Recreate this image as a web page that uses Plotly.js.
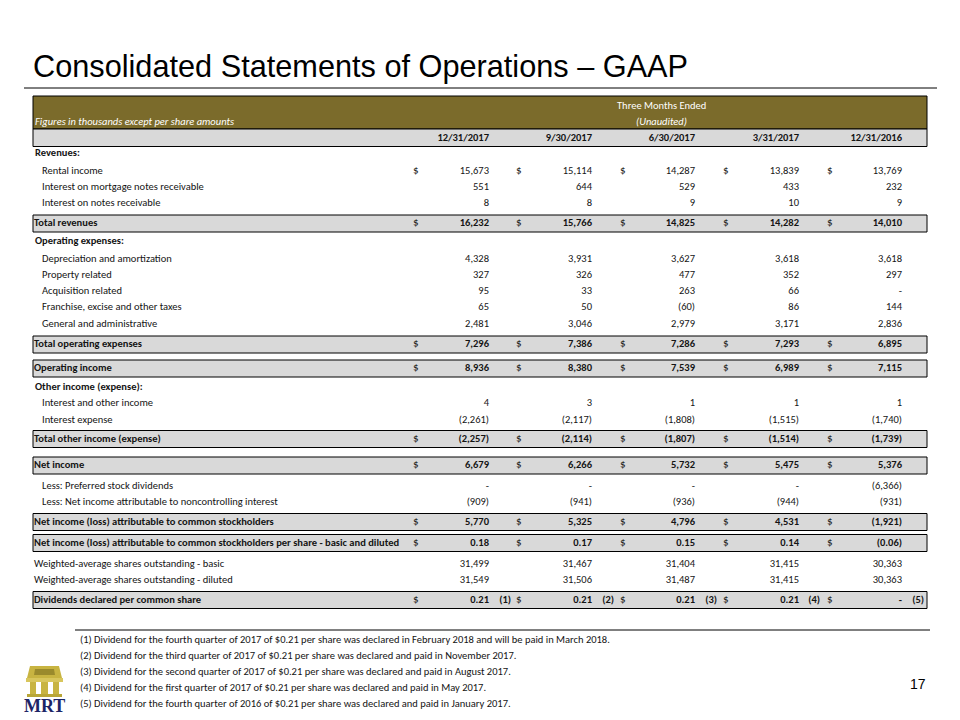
<!DOCTYPE html>
<html><head><meta charset="utf-8">
<script src="https://cdn.plot.ly/plotly-3.0.1.min.js"></script>
<style>html,body{margin:0;padding:0;background:#fff}#chart{width:960px;height:720px}</style>
</head><body><div id="chart"></div>
<script>
// ---------------- DATA ----------------
const chartTitle = 'Consolidated Statements of Operations \u2013 GAAP';
const headerTop = 'Three Months Ended';
const headerSub = '(Unaudited)';
const headerNote = 'Figures in thousands except per share amounts';
const periods = ['12/31/2017', '9/30/2017', '6/30/2017', '3/31/2017', '12/31/2016'];
const rowLabels = [
  'Revenues:',
  'Rental income',
  'Interest on mortgage notes receivable',
  'Interest on notes receivable',
  'Total revenues',
  'Operating expenses:',
  'Depreciation and amortization',
  'Property related',
  'Acquisition related',
  'Franchise, excise and other taxes',
  'General and administrative',
  'Total operating expenses',
  'Operating income',
  'Other income (expense):',
  'Interest and other income',
  'Interest expense',
  'Total other income (expense)',
  'Net income',
  'Less: Preferred stock dividends',
  'Less: Net income attributable to noncontrolling interest',
  'Net income (loss) attributable to common stockholders',
  'Net income (loss) attributable to common stockholders per share - basic and diluted',
  'Weighted-average shares outstanding - basic',
  'Weighted-average shares outstanding - diluted',
  'Dividends declared per common share'
];
const q4_2017 = [null, 15673, 551, 8, 16232, null, 4328, 327, 95, 65, 2481, 7296, 8936, null, 4, -2261, -2257, 6679, 0, -909, 5770, 0.18, 31499, 31549, 0.21];
const q3_2017 = [null, 15114, 644, 8, 15766, null, 3931, 326, 33, 50, 3046, 7386, 8380, null, 3, -2117, -2114, 6266, 0, -941, 5325, 0.17, 31467, 31506, 0.21];
const q2_2017 = [null, 14287, 529, 9, 14825, null, 3627, 477, 263, -60, 2979, 7286, 7539, null, 1, -1808, -1807, 5732, 0, -936, 4796, 0.15, 31404, 31487, 0.21];
const q1_2017 = [null, 13839, 433, 10, 14282, null, 3618, 352, 66, 86, 3171, 7293, 6989, null, 1, -1515, -1514, 5475, 0, -944, 4531, 0.14, 31415, 31415, 0.21];
const q4_2016 = [null, 13769, 232, 9, 14010, null, 3618, 297, 0, 144, 2836, 6895, 7115, null, 1, -1740, -1739, 5376, -6366, -931, -1921, -0.06, 30363, 30363, 0];
const dividendNotes = ['(1)', '(2)', '(3)', '(4)', '(5)'];
const footnotes = [
  '(1) Dividend for the fourth quarter of 2017 of $0.21 per share was declared in February 2018 and will be paid in March 2018.',
  '(2) Dividend for the third quarter of 2017 of $0.21 per share was declared and paid in November 2017.',
  '(3) Dividend for the second quarter of 2017 of $0.21 per share was declared and paid in August 2017.',
  '(4) Dividend for the first quarter of 2017 of $0.21 per share was declared and paid in May 2017.',
  '(5) Dividend for the fourth quarter of 2016 of $0.21 per share was declared and paid in January 2017.'
];
const pageNumber = '17';
const logoText = 'MRT';

// ---------------- LAYOUT CONFIG (positions / styles) ----------------
const seriesValues = [q4_2017, q3_2017, q2_2017, q1_2017, q4_2016];
const rowY = [153, 171.5, 187.5, 203.5, 223.5, 241.5, 259.5, 275.5, 291.5, 307.5, 324, 344.5, 368.5, 387, 403.5, 420, 439, 465.5, 486.5, 502.5, 522, 543, 564, 580, 600];
const rowKind = ['head','item','item','item','total','head','item','item','item','item','item','total','total','head','item','item','total','total','item','item','total','total','plain','plain','total'];
const dollarRows = [1, 4, 11, 12, 16, 17, 20, 21, 24];
const perShareRows = [21, 24];
const noteRow = 24;
const valueRight = [489, 592, 695, 799, 902];
const dollarLeft = [413, 516, 620, 723, 827];
const noteRight = [511, 614, 717, 820, 924];
const tableLeft = 33, tableRight = 927;
const labelX = {head: 35, item: 42, total: 34, plain: 34};
const FONT = 'Carlito, "Liberation Sans Narrow", "Arial Narrow", "DejaVu Sans Condensed", sans-serif';
const FS = 10.5;
const TXT = '#141414';
const OLIVE = '#7b6b2b';
const GRAY = '#d9d9d9';

function fmt(v, dec) {
  if (v === null || v === undefined) return '';
  if (v === 0) return '-';
  const s = Math.abs(v).toLocaleString('en-US', {minimumFractionDigits: dec, maximumFractionDigits: dec});
  return v < 0 ? '(' + s + ')' : s;
}
function bold(s, i) { return rowKind[i] === 'total' ? '<b>' + s + '</b>' : s; }

const traces = [];
// row labels
traces.push({
  type: 'scatter', mode: 'text', hoverinfo: 'skip', showlegend: false,
  x: rowKind.map(k => labelX[k]), y: rowY,
  text: rowLabels.map((l, i) => (rowKind[i] === 'total' || rowKind[i] === 'head') ? '<b>' + l + '</b>' : l),
  textposition: 'middle right', textfont: {family: FONT, size: FS, color: TXT}, cliponaxis: false
});
// value columns
seriesValues.forEach((vals, c) => {
  traces.push({
    type: 'scatter', mode: 'text', hoverinfo: 'skip', showlegend: false,
    x: vals.map(() => valueRight[c]), y: rowY,
    text: vals.map((v, i) => bold(fmt(v, perShareRows.includes(i) ? 2 : 0), i)),
    textposition: 'middle left', textfont: {family: FONT, size: FS, color: TXT}, cliponaxis: false
  });
  traces.push({
    type: 'scatter', mode: 'text', hoverinfo: 'skip', showlegend: false,
    x: dollarRows.map(() => dollarLeft[c]), y: dollarRows.map(r => rowY[r]),
    text: dollarRows.map(() => '$'),
    textposition: 'middle right', textfont: {family: FONT, size: FS + 0.5, color: TXT}, cliponaxis: false
  });
});
// dividend footnote markers
traces.push({
  type: 'scatter', mode: 'text', hoverinfo: 'skip', showlegend: false,
  x: noteRight, y: dividendNotes.map(() => rowY[noteRow]),
  text: dividendNotes.map(n => '<b>' + n + '</b>'),
  textposition: 'middle left', textfont: {family: FONT, size: FS, color: TXT}, cliponaxis: false
});
// period headers
traces.push({
  type: 'scatter', mode: 'text', hoverinfo: 'skip', showlegend: false,
  x: valueRight, y: periods.map(() => 138),
  text: periods.map(p => '<b>' + p + '</b>'),
  textposition: 'middle left', textfont: {family: FONT, size: FS, color: TXT}, cliponaxis: false
});

const shapes = [];
// title rule
shapes.push({type: 'line', xref: 'x', yref: 'y', x0: 24, x1: 937, y0: 88, y1: 88, line: {color: '#000', width: 1}});
// header block
shapes.push({type: 'rect', xref: 'x', yref: 'y', x0: tableLeft, x1: tableRight, y0: 96, y1: 129, fillcolor: OLIVE, line: {color: '#000', width: 1}, layer: 'below'});
shapes.push({type: 'rect', xref: 'x', yref: 'y', x0: tableLeft, x1: tableRight, y0: 129, y1: 146.5, fillcolor: GRAY, line: {color: '#000', width: 1}, layer: 'below'});
// total boxes
rowKind.forEach((k, i) => {
  if (k === 'total') shapes.push({type: 'rect', xref: 'x', yref: 'y', x0: tableLeft, x1: tableRight, y0: rowY[i] - 8.5, y1: rowY[i] + 8.5, fillcolor: GRAY, line: {color: '#000', width: 1}, layer: 'below'});
});
// footnote rule
shapes.push({type: 'line', xref: 'x', yref: 'y', x0: 75, x1: 930, y0: 630, y1: 630, line: {color: '#000', width: 1}});
// logo
const GOLD = '#c8b441';
shapes.push({type: 'path', xref: 'x', yref: 'y', path: 'M30,666 L59,666 L62,678 L27,678 Z', fillcolor: GOLD, line: {width: 0}});
shapes.push({type: 'path', xref: 'x', yref: 'y', path: 'M35,669 L54,669 L55,675 L34,675 Z', fillcolor: '#9a8a2c', line: {width: 0}});
shapes.push({type: 'rect', xref: 'x', yref: 'y', x0: 26, x1: 63, y0: 678, y1: 682, fillcolor: '#d8c65c', line: {width: 0}});
[[30, 36], [41, 48], [53, 59]].forEach(p => shapes.push({type: 'rect', xref: 'x', yref: 'y', x0: p[0], x1: p[1], y0: 682, y1: 695, fillcolor: GOLD, line: {width: 0}}));
shapes.push({type: 'rect', xref: 'x', yref: 'y', x0: 27, x1: 62, y0: 694, y1: 697, fillcolor: '#b9a637', line: {width: 0}});

const annotations = [];
annotations.push({xref: 'x', yref: 'y', x: 31, y: 66, text: chartTitle, showarrow: false, xanchor: 'left', yanchor: 'middle', font: {family: '"Liberation Sans", Arial, sans-serif', size: 30.7, color: '#000'}});
annotations.push({xref: 'x', yref: 'y', x: 661, y: 105, text: headerTop, showarrow: false, xanchor: 'center', yanchor: 'middle', font: {family: FONT, size: FS, color: '#fff'}});
annotations.push({xref: 'x', yref: 'y', x: 661, y: 121.5, text: '<i>' + headerSub + '</i>', showarrow: false, xanchor: 'center', yanchor: 'middle', font: {family: FONT, size: FS, color: '#fff'}});
annotations.push({xref: 'x', yref: 'y', x: 33, y: 121.5, text: '<i>' + headerNote + '</i>', showarrow: false, xanchor: 'left', yanchor: 'middle', font: {family: FONT, size: FS, color: '#fff'}});
footnotes.forEach((f, i) => annotations.push({xref: 'x', yref: 'y', x: 78, y: 639 + 16 * i, text: f, showarrow: false, xanchor: 'left', yanchor: 'middle', font: {family: FONT, size: FS, color: TXT}}));
annotations.push({xref: 'x', yref: 'y', x: 928, y: 684, text: pageNumber, showarrow: false, xanchor: 'right', yanchor: 'middle', font: {family: '"Liberation Sans", Arial, sans-serif', size: 14, color: '#000'}});
annotations.push({xref: 'x', yref: 'y', x: 44, y: 706, text: '<b>' + logoText + '</b>', showarrow: false, xanchor: 'center', yanchor: 'middle', font: {family: '"Liberation Serif", "Times New Roman", serif', size: 18, color: '#1c2466'}});

const layout = {
  width: 960, height: 720,
  margin: {l: 0, r: 0, t: 0, b: 0},
  paper_bgcolor: '#fff', plot_bgcolor: '#fff',
  xaxis: {range: [0, 960], visible: false, fixedrange: true},
  yaxis: {range: [720, 0], visible: false, fixedrange: true},
  shapes: shapes, annotations: annotations, showlegend: false
};
Plotly.newPlot('chart', traces, layout, {staticPlot: true, displayModeBar: false});
</script>
</body></html>
